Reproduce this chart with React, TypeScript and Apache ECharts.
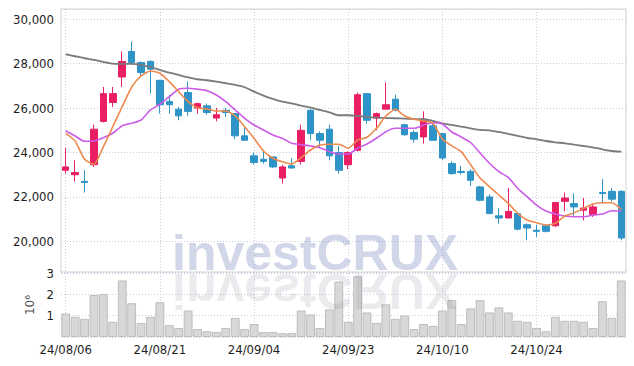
import React, { useEffect, useRef } from "react";
import * as echarts from "echarts";

const dates = [
  "24/08/06", "24/08/07", "24/08/08", "24/08/09", "24/08/12", "24/08/13", "24/08/14", "24/08/16", "24/08/19", "24/08/20",
  "24/08/21", "24/08/22", "24/08/23", "24/08/26", "24/08/27", "24/08/28", "24/08/29", "24/08/30", "24/09/02", "24/09/03",
  "24/09/04", "24/09/05", "24/09/06", "24/09/09", "24/09/10", "24/09/11", "24/09/12", "24/09/13", "24/09/19", "24/09/20",
  "24/09/23", "24/09/24", "24/09/25", "24/09/26", "24/09/27", "24/09/30", "24/10/02", "24/10/04", "24/10/07", "24/10/08",
  "24/10/10", "24/10/11", "24/10/14", "24/10/15", "24/10/16", "24/10/17", "24/10/18", "24/10/21", "24/10/22", "24/10/23",
  "24/10/24", "24/10/25", "24/10/28", "24/10/29", "24/10/30", "24/10/31", "24/11/01", "24/11/04", "24/11/05", "24/11/06",
];

const opens = [
  23200, 23000, 22700, 23450, 25400, 26250, 27400, 28550, 28050, 28100,
  27250, 26300, 25950, 26700, 26000, 26100, 25550, 25900, 25750, 24750,
  23850, 23700, 23800, 22850, 23400, 23600, 25900, 24850, 25050, 24000,
  23450, 24100, 26650, 25550, 25950, 26400, 25250, 24900, 24700, 25200,
  24850, 23500, 23150, 23150, 22450, 22000, 21150, 21050, 21250, 20750,
  20500, 20700, 20700, 21800, 21700, 21400, 21200, 22200, 22250, 22250,
];
const closes = [
  23350, 23100, 22650, 25050, 26650, 26650, 28100, 28050, 27600, 27750,
  26150, 26150, 25650, 25850, 26200, 25800, 25700, 25800, 24750, 24550,
  23550, 23600, 23350, 23350, 23300, 25000, 24850, 24550, 23850, 23200,
  24000, 26600, 25450, 25750, 26150, 25900, 24800, 24600, 25500, 24550,
  23750, 23050, 23100, 22750, 21850, 21250, 21050, 21350, 20550, 20600,
  20450, 20450, 21750, 21950, 21550, 21500, 21550, 22150, 21900, 20150,
];
const lows = [
  23050, 22700, 22200, 23350, 25350, 26050, 26950, 28000, 27400, 26650,
  25750, 25750, 25450, 25650, 25750, 25700, 25400, 25600, 24600, 24550,
  23450, 23500, 23300, 22600, 23300, 23450, 24550, 24200, 23650, 23050,
  23250, 24050, 25300, 25000, 25950, 25850, 24750, 24450, 24400, 24550,
  23650, 23000, 23000, 22500, 21800, 21250, 20800, 21050, 20500, 20050,
  20200, 20400, 20650, 21350, 21150, 20950, 21100, 21700, 21800, 20050,
];
const highs = [
  24200, 23650, 23200, 25250, 26950, 26950, 28550, 29000, 28100, 28150,
  27250, 26600, 26050, 27200, 26250, 26200, 26000, 26000, 25750, 25150,
  24000, 24100, 23800, 23450, 23750, 25250, 25950, 24950, 25250, 24300,
  24050, 26700, 26650, 25800, 27150, 26600, 25300, 25000, 25850, 25300,
  24850, 23600, 23400, 23250, 22500, 22100, 21500, 22400, 21250, 20800,
  20750, 20750, 21750, 22200, 22150, 21950, 21700, 22800, 22400, 22300,
];

const maShort = [
  24865, 24518, 23693, 23468, 24261, 25162, 26063, 26937, 27446, 27671,
  27568, 27189, 26739, 26288, 26018, 25959, 25869, 25869, 25644, 25162,
  24640, 24068, 23739, 23586, 23482, 23766, 24113, 24338, 24370, 24370,
  24189, 24563, 24685, 25090, 25644, 25946, 25644, 25496, 25419, 25315,
  24600, 24300, 24040, 23450, 22850, 22460, 22086, 21712, 21261, 20959,
  20838, 20734, 20811, 21140, 21288, 21486, 21680, 21739, 21739, 21441,
];
const maMid = [
  24982, 24743, 24505, 24518, 24667, 24865, 25207, 25315, 25464, 25914,
  26171, 26513, 26847, 26892, 26847, 26784, 26590, 26288, 25914, 25541,
  25239, 25014, 24788, 24640, 24415, 24352, 24293, 24216, 24036, 23932,
  23932, 24189, 24383, 24640, 24937, 25090, 25090, 25090, 25239, 25342,
  25284, 24923, 24700, 24450, 23980, 23514, 23137, 22880, 22387, 22009,
  21635, 21365, 21230, 21140, 21108, 21108, 21185, 21230, 21378, 21365,
];
const maLong = [
  28423, 28333, 28243, 28167, 28077, 28000, 27986, 27986, 27941, 27838,
  27716, 27595, 27491, 27387, 27297, 27252, 27189, 27117, 27040, 26937,
  26739, 26559, 26410, 26288, 26216, 26108, 26018, 25914, 25811, 25676,
  25676, 25644, 25599, 25568, 25554, 25541, 25523, 25509, 25496, 25419,
  25315, 25239, 25162, 25090, 25014, 25000, 24923, 24833, 24743, 24653,
  24595, 24518, 24460, 24415, 24352, 24293, 24234, 24144, 24068, 24036,
];

// volume in millions
const volumes = [
  1.10, 0.95, 0.85, 1.97, 2.02, 0.71, 2.65, 1.58, 0.66, 0.95,
  1.63, 0.56, 0.42, 1.24, 0.37, 0.27, 0.23, 0.42, 0.90, 0.37,
  0.61, 0.23, 0.23, 0.18, 0.18, 1.24, 1.06, 0.42, 1.29, 2.60,
  0.71, 2.85, 1.15, 0.66, 1.53, 0.85, 1.00, 0.37, 0.61, 0.52,
  1.24, 1.73, 0.61, 1.34, 1.73, 1.15, 1.39, 1.15, 0.76, 0.71,
  0.42, 0.27, 0.95, 0.76, 0.76, 0.71, 0.42, 1.68, 0.90, 2.65,
];

const volumeUnit = "10⁶";
const watermark = "investCRUX";

const FONT = "'DejaVu Sans Condensed', 'Liberation Sans Narrow', 'DejaVu Sans', sans-serif";
const WM_FONT = "'Liberation Sans', Arial, sans-serif";
const GRID_LINE = { color: "#c9cde0", type: [1, 2] as number[], width: 1 };
const every10 = (i: number) => i % 10 === 0;

export default function App() {
  const ref = useRef<HTMLDivElement>(null);
  useEffect(() => {
    const chart = echarts.init(ref.current!, null, { renderer: "svg" });
    const candles = opens.map((o, i) => [o, closes[i], lows[i], highs[i]]);
    chart.setOption({
      animation: false,
      backgroundColor: "#ffffff",
      grid: [
        { left: 61, right: 8, top: 9, height: 263, show: true, borderColor: "#d0d0d0", borderWidth: 1 },
        { left: 61, right: 8, top: 273, height: 64 },
      ],
      xAxis: [
        {
          type: "category", gridIndex: 0, data: dates, boundaryGap: true,
          axisLine: { show: false }, axisTick: { show: false }, axisLabel: { show: false },
          splitLine: { show: true, interval: every10, alignWithLabel: true, lineStyle: GRID_LINE },
        },
        {
          type: "category", gridIndex: 1, data: dates, boundaryGap: true,
          axisLine: { show: false }, axisTick: { show: false },
          axisLabel: { interval: every10, fontFamily: FONT, fontSize: 13, color: "#1e1e1e", margin: 6 },
          splitLine: { show: true, interval: every10, alignWithLabel: true, lineStyle: GRID_LINE },
        },
      ],
      yAxis: [
        {
          type: "value", gridIndex: 0, min: 18620, max: 30460, splitNumber: 6,
          axisLine: { show: false }, axisTick: { show: false },
          axisLabel: { showMinLabel: false, showMaxLabel: false, fontFamily: FONT, fontSize: 13, color: "#1e1e1e", margin: 7 },
          splitLine: { show: true, lineStyle: GRID_LINE },
        },
        {
          type: "value", gridIndex: 1, min: 0, max: 3, interval: 1,
          axisLine: { show: false }, axisTick: { show: false },
          axisLabel: { showMinLabel: false, fontFamily: FONT, fontSize: 13, color: "#1e1e1e", margin: 7 },
          splitLine: { show: true, lineStyle: GRID_LINE },
          name: volumeUnit, nameLocation: "middle", nameRotate: 90, nameGap: 18,
          nameTextStyle: { fontFamily: "'DejaVu Sans', sans-serif", fontSize: 12, color: "#555" },
        },
      ],
      graphic: [
        {
          type: "text", x: 172, y: 278, z: 10, silent: true,
          style: {
            text: watermark, fontSize: 50, fontWeight: "bold", fontFamily: WM_FONT,
            fill: "rgba(79,99,171,0.26)", verticalAlign: "bottom",
          },
        },
        {
          type: "text", x: 172, y: 266, scaleY: -1, z: 10, silent: true,
          style: {
            text: watermark, fontSize: 50, fontWeight: "bold", fontFamily: WM_FONT,
            fill: "rgba(100,100,120,0.14)", verticalAlign: "bottom",
          },
        },
      ],
      series: [
        {
          type: "candlestick", xAxisIndex: 0, yAxisIndex: 0, data: candles, barWidth: 7,
          itemStyle: { color: "#e91e63", color0: "#2e93c6", borderColor: "#e91e63", borderColor0: "#2e93c6", borderWidth: 1 },
        },
        { type: "line", xAxisIndex: 0, yAxisIndex: 0, data: maLong, symbol: "none", smooth: 0.2, lineStyle: { color: "#7a7a7a", width: 1.8 } },
        { type: "line", xAxisIndex: 0, yAxisIndex: 0, data: maMid, symbol: "none", smooth: 0.2, lineStyle: { color: "#cc5be8", width: 1.6 } },
        { type: "line", xAxisIndex: 0, yAxisIndex: 0, data: maShort, symbol: "none", smooth: 0.2, lineStyle: { color: "#ef8a4f", width: 1.6 } },
        {
          type: "bar", xAxisIndex: 1, yAxisIndex: 1, data: volumes, barCategoryGap: "6%",
          itemStyle: { color: "#d8d8d8", borderColor: "#bdbdbd", borderWidth: 1 },
        },
      ],
    });
    return () => chart.dispose();
  }, []);
  return <div ref={ref} style={{ position: "fixed", left: 0, top: 0, width: 634, height: 366 }} />;
}
